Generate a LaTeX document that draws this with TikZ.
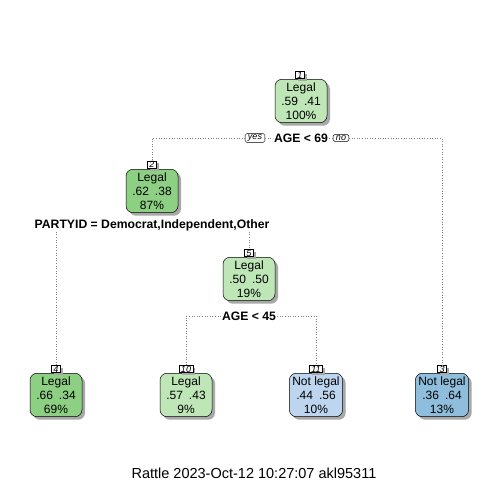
\documentclass[tikz,border=0pt]{standalone}
\usepackage{fontspec}
\setmainfont{Liberation Sans}
\usetikzlibrary{shadows}
\definecolor{lgreen}{HTML}{BFE6B6}
\definecolor{mgreen}{HTML}{8ED083}
\definecolor{lblue}{HTML}{BDD5EE}
\definecolor{mblue}{HTML}{8EBEDC}
\definecolor{shad}{HTML}{A8A8A8}
\begin{document}
\begin{tikzpicture}[x=1pt,y=-1pt,
  treenode/.style={draw=black, line width=0.5pt, rounded corners=7pt,
    minimum width=52pt, minimum height=43pt, inner xsep=3pt, align=center,
    font=\fontsize{12}{14}\selectfont,
    drop shadow={shadow xshift=3pt, shadow yshift=-3pt, fill=shad, opacity=1}},
  numbox/.style={draw=black, line width=0.45pt, fill=white, inner xsep=1.8pt, inner ysep=0.5pt,
    font=\fontsize{9}{9}\itshape,
    drop shadow={shadow xshift=2.5pt, shadow yshift=-2.5pt, fill=shad, opacity=1}},
  splitlab/.style={font=\fontsize{12.2}{13}\bfseries, inner sep=1pt, fill=white},
  yn/.style={draw=black, line width=0.45pt, fill=white, rounded corners=1.5pt, inner xsep=2.8pt, inner ysep=1pt,
    font=\fontsize{9}{9}\itshape},
  conn/.style={draw=gray, dotted, line width=0.6pt}
]
\useasboundingbox (0,0) rectangle (504,504);
\fill[white] (0,0) rectangle (504,504);

% nodes
\node[treenode, fill=lgreen] (n1) at (301,101) {Legal\\.59\hspace{0.5em}.41\\100\%};
\node[numbox] (l1) at (300,75) {1};
\node[treenode, fill=mgreen] (n2) at (152,191) {Legal\\.62\hspace{0.5em}.38\\87\%};
\node[numbox] (l2) at (152,164.5) {2};
\node[treenode, fill=lgreen] (n5) at (249,279) {Legal\\.50\hspace{0.5em}.50\\19\%};
\node[numbox] (l5) at (249,253) {5};
\node[treenode, fill=mgreen] (n4) at (56,395) {Legal\\.66\hspace{0.5em}.34\\69\%};
\node[numbox] (l4) at (56,369) {4};
\node[treenode, fill=lgreen] (n10) at (186,395) {Legal\\.57\hspace{0.5em}.43\\9\%};
\node[numbox] (l10) at (186,369) {10};
\node[treenode, fill=lblue] (n11) at (316,395) {Not legal\\.44\hspace{0.5em}.56\\10\%};
\node[numbox] (l11) at (316,369) {11};
\node[treenode, fill=mblue] (n3) at (442,395) {Not legal\\.36\hspace{0.5em}.64\\13\%};
\node[numbox] (l3) at (442,369) {3};

% split labels
\node[splitlab] (s1) at (301,138) {AGE < 69};
\node[yn] (yes) at (255,138) {yes};
\node[yn] (no) at (341,138) {no};
\node[splitlab] (s2) at (152,225) {PARTYID = Democrat,Independent,Other};
\node[splitlab] (s3) at (249,316) {AGE < 45};

% connectors
\draw[conn] (yes.west) -| (l2.north);
\draw[conn] (yes.east) -- (s1.west);
\draw[conn] (s1.east) -- (no.west);
\draw[conn] (no.east) -| (l3.north);
\draw[conn] (l4.north |- s2.south) -- (l4.north);
\draw[conn] (l5.north |- s2.south) -- (l5.north);
\draw[conn] (s3.west) -| (l10.north);
\draw[conn] (s3.east) -| (l11.north);

\node[font=\fontsize{14.5}{16}\selectfont] (cap) at (254,473) {Rattle 2023-Oct-12 10:27:07 akl95311};
\end{tikzpicture}
\end{document}
